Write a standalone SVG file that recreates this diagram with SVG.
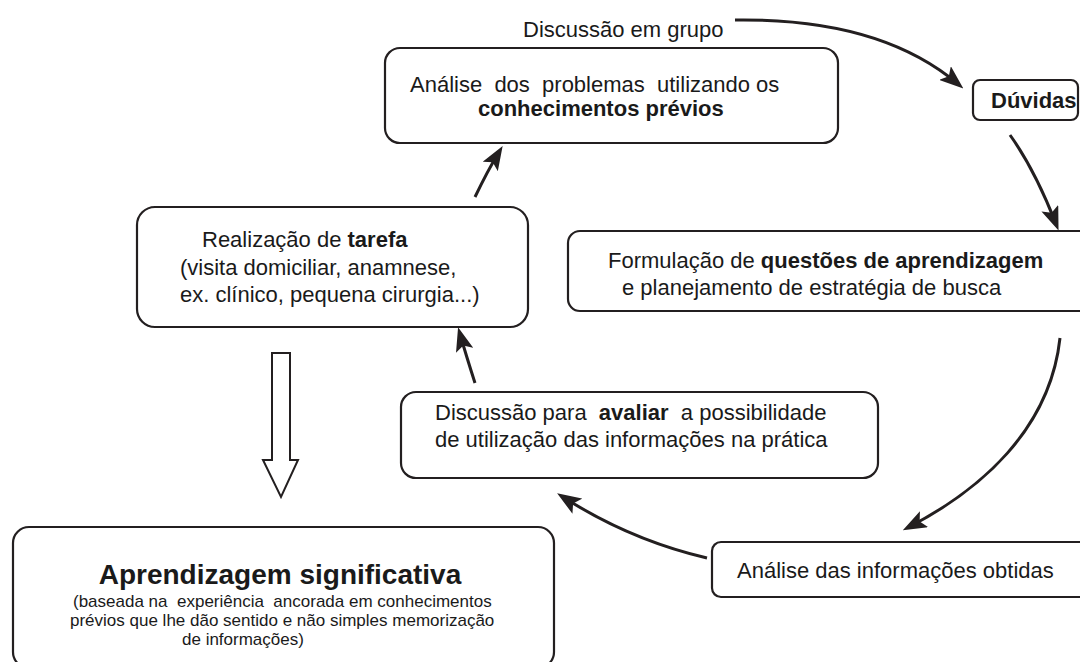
<svg xmlns="http://www.w3.org/2000/svg" width="1080" height="662" viewBox="0 0 1080 662">
<style>
.box{fill:#fff;stroke:#231f20;stroke-width:2.2}
.t{font-family:"Liberation Sans",Arial,sans-serif;font-size:22px;fill:#1a1a1a;white-space:pre}
.b{font-weight:bold}
.s{font-size:17px}
.con{fill:none;stroke:#231f20;stroke-width:3}
</style>
<defs>
<marker id="ah" markerUnits="userSpaceOnUse" viewBox="0 0 24 18" refX="17" refY="9" markerWidth="24" markerHeight="18" orient="auto">
<path d="M0,0 L24,9 L0,18 L5,9 Z" fill="#231f20"/>
</marker>
</defs>
<rect width="1080" height="662" fill="#fff"/>
<g id="label-discussao-grupo"><text class="t" x="523" y="37">Discussão em grupo</text></g>
<g id="n-analise-problemas">
<rect class="box" x="385" y="48" width="453" height="95" rx="15"/>
<text class="t" x="410" y="92" xml:space="preserve">Análise  dos  problemas  utilizando os</text>
<text class="t b" x="478" y="116">conhecimentos prévios</text>
</g>
<g id="n-duvidas">
<rect class="box" x="973" y="80" width="105" height="40" rx="7"/>
<text class="t b" x="991" y="108">Dúvidas</text>
</g>
<g id="n-formulacao">
<rect class="box" x="568" y="231" width="540" height="80" rx="12"/>
<text class="t" x="608" y="268">Formulação de <tspan class="b">questões de aprendizagem</tspan></text>
<text class="t" x="622" y="295">e planejamento de estratégia de busca</text>
</g>
<g id="n-realizacao">
<rect class="box" x="137" y="207" width="391" height="120" rx="18"/>
<text class="t" x="202" y="247">Realização de <tspan class="b">tarefa</tspan></text>
<text class="t" x="180" y="275">(visita domiciliar, anamnese,</text>
<text class="t" x="180" y="302">ex. clínico, pequena cirurgia...)</text>
</g>
<g id="n-discussao-avaliar">
<rect class="box" x="401" y="392" width="477" height="86" rx="15"/>
<text class="t" x="435" y="420" xml:space="preserve">Discussão para  <tspan class="b">avaliar</tspan>  a possibilidade</text>
<text class="t" x="435" y="447">de utilização das informações na prática</text>
</g>
<g id="n-analise-informacoes">
<rect class="box" x="712" y="542" width="400" height="55" rx="9"/>
<text class="t" x="737" y="578">Análise das informações obtidas</text>
</g>
<g id="n-aprendizagem">
<rect class="box" x="13" y="527" width="541" height="141" rx="16"/>
<text class="t b" x="280" y="584" text-anchor="middle" style="font-size:28px">Aprendizagem significativa</text>
<text class="t s" x="73" y="607" xml:space="preserve">(baseada na  experiência  ancorada em conhecimentos</text>
<text class="t s" x="70" y="626">prévios que lhe dão sentido e não simples memorização</text>
<text class="t s" x="182" y="645">de informações)</text>
</g>
<g id="connectors">
<path class="con" d="M735,20 Q880,18 958,84" marker-end="url(#ah)"/>
<path class="con" d="M1010,135 Q1035,170 1056,224" marker-end="url(#ah)"/>
<path class="con" d="M1060,338 C1050,430 980,490 909,527" marker-end="url(#ah)"/>
<path class="con" d="M707,558 Q630,540 563,497" marker-end="url(#ah)"/>
<path class="con" d="M475,383 Q466,355 460,334" marker-end="url(#ah)"/>
<path class="con" d="M475,197 Q488,170 499,152" marker-end="url(#ah)"/>
<polygon id="hollow-arrow" points="272,353 290,353 290,460 298,460 281,497 263,460 272,460" fill="#fff" stroke="#231f20" stroke-width="2"/>
</g>
</svg>
